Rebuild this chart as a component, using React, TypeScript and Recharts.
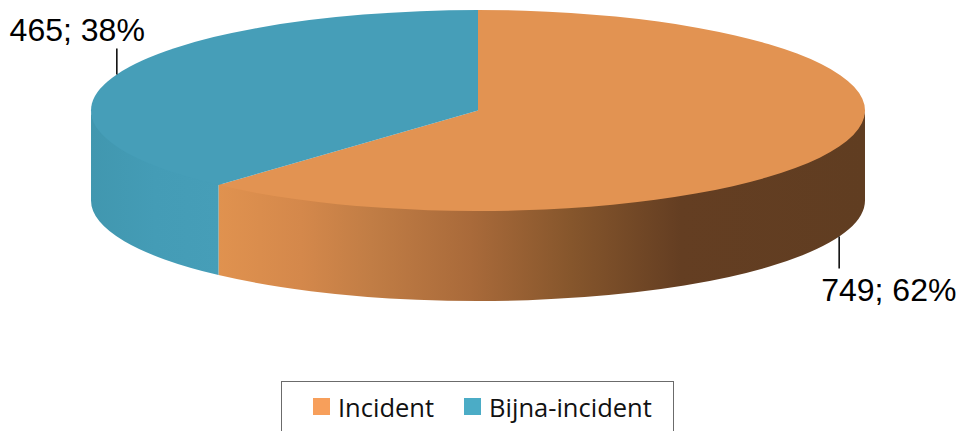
import React from "react";
import { PieChart, Pie, Cell, Legend } from "recharts";

const categories = ["Incident", "Bijna-incident"];
const counts = [749, 465];
const swatchColors = ["#f79f5b", "#4bacc6"];
const topColors = ["#e29352", "#469eb8"];

const rows = categories.map((name, i) => ({ name, value: counts[i] }));

const RX = 387;
const RY = 100.5;
const DEPTH = 90;
const RAD = Math.PI / 180;
// The rim runs slightly under the top face so no light seam shows between them.
const RIM_OVERLAP = 2;

const px = (cx: number, a: number) => cx + RX * Math.cos(a * RAD);
const py = (cy: number, a: number) => cy - RY * Math.sin(a * RAD);

// One slice of the tilted disc: lit top face plus the visible part of its rim.
function DiscSlice(props: any) {
  const { cx, cy, startAngle, endAngle, index } = props;
  const i = index ?? categories.indexOf(props.name);
  const span = startAngle - endAngle;
  const x0 = px(cx, startAngle);
  const y0 = py(cy, startAngle);
  const x1 = px(cx, endAngle);
  const y1 = py(cy, endAngle);
  const top = `M${cx},${cy} L${x0},${y0} A${RX},${RY} 0 ${span > 180 ? 1 : 0} 1 ${x1},${y1} Z`;

  // The rim only shows along the front half, math angles 0 to -180.
  const wallStart = Math.min(startAngle, 0);
  const wallEnd = Math.max(endAngle, -180);
  let wall = null;
  if (wallStart > wallEnd) {
    const ax = px(cx, wallStart);
    const ay = py(cy, wallStart);
    const bx = px(cx, wallEnd);
    const by = py(cy, wallEnd);
    wall =
      `M${ax},${ay - RIM_OVERLAP} A${RX},${RY} 0 0 1 ${bx},${by - RIM_OVERLAP} ` +
      `L${bx},${by + DEPTH} A${RX},${RY} 0 0 0 ${ax},${ay + DEPTH} Z`;
  }
  return (
    <g>
      <defs>
        <linearGradient id="rim-0" x1="0" x2="1" y1="0" y2="0">
          <stop offset="0" stopColor="#e0924f" />
          <stop offset="0.128" stopColor="#d4884b" />
          <stop offset="0.236" stopColor="#c17d45" />
          <stop offset="0.39" stopColor="#a96a3a" />
          <stop offset="0.545" stopColor="#86562c" />
          <stop offset="0.715" stopColor="#643e22" />
          <stop offset="1" stopColor="#603d21" />
        </linearGradient>
        <linearGradient id="rim-1" x1="0" x2="1" y1="0" y2="0">
          <stop offset="0" stopColor="#4197af" />
          <stop offset="0.5" stopColor="#449cb6" />
          <stop offset="1" stopColor="#469eb8" />
        </linearGradient>
      </defs>
      {wall && <path d={wall} fill={`url(#rim-${i})`} />}
      <path d={top} fill={topColors[i]} />
    </g>
  );
}

// Value and share above the rim on the back half, below it on the front half.
function sliceLabel(props: any) {
  const { cx, cy, midAngle, value, percent } = props;
  const x = px(cx, midAngle);
  const y = py(cy, midAngle);
  const text = `${value}; ${Math.round(percent * 100)}%`;
  const back = Math.sin(midAngle * RAD) > 0;
  const style = { fontFamily: "'Liberation Sans', Arial, sans-serif", fontSize: 32, fill: "#000" };
  return back ? (
    <g>
      <line x1={x} x2={x} y1={y} y2={y - 26} stroke="#000" strokeWidth={1.5} />
      <text x={x + 28} y={y - 33} textAnchor="end" style={style}>{text}</text>
    </g>
  ) : (
    <g>
      <line x1={x} x2={x} y1={y + DEPTH} y2={y + DEPTH + 32} stroke="#000" strokeWidth={1.5} />
      <text x={x - 18} y={y + DEPTH + 64} textAnchor="start" style={style}>{text}</text>
    </g>
  );
}

function LegendBox({ payload }: any) {
  return (
    <div
      style={{
        boxSizing: "border-box",
        width: 393,
        height: 50,
        border: "1px solid #6b6b6b",
        borderBottom: "none",
        background: "#fff",
        display: "flex",
        alignItems: "center",
        paddingLeft: 31,
        fontFamily: "'Open Sans', sans-serif",
        fontSize: 25.5,
        color: "#111",
        whiteSpace: "nowrap",
      }}
    >
      {(payload ?? []).map((entry: any, i: number) => (
        <span key={entry.value} style={{ display: "flex", alignItems: "center", marginRight: 30, flex: "none" }}>
          <span style={{ width: 17, height: 17, background: swatchColors[i], marginRight: 8 }} />
          {entry.value}
        </span>
      ))}
    </div>
  );
}

export default function App() {
  return (
    <div style={{ position: "absolute", left: 0, top: 0, width: 960, height: 431, overflow: "hidden", background: "#fff" }}>
      <PieChart width={960} height={431} margin={{ top: 0, right: 0, bottom: 0, left: 0 }}>
        <Pie
          data={rows}
          dataKey="value"
          nameKey="name"
          cx={478}
          cy={110.5}
          outerRadius={RX}
          startAngle={90}
          endAngle={-270}
          stroke="none"
          shape={DiscSlice}
          label={sliceLabel}
          labelLine={false}
          isAnimationActive={false}
        >
          {rows.map((r, i) => (
            <Cell key={r.name} fill={swatchColors[i]} />
          ))}
        </Pie>
        <Legend
          content={<LegendBox />}
          itemSorter={null}
          wrapperStyle={{ position: "absolute", left: 281, top: 381, width: 393, height: 50 }}
        />
      </PieChart>
    </div>
  );
}
